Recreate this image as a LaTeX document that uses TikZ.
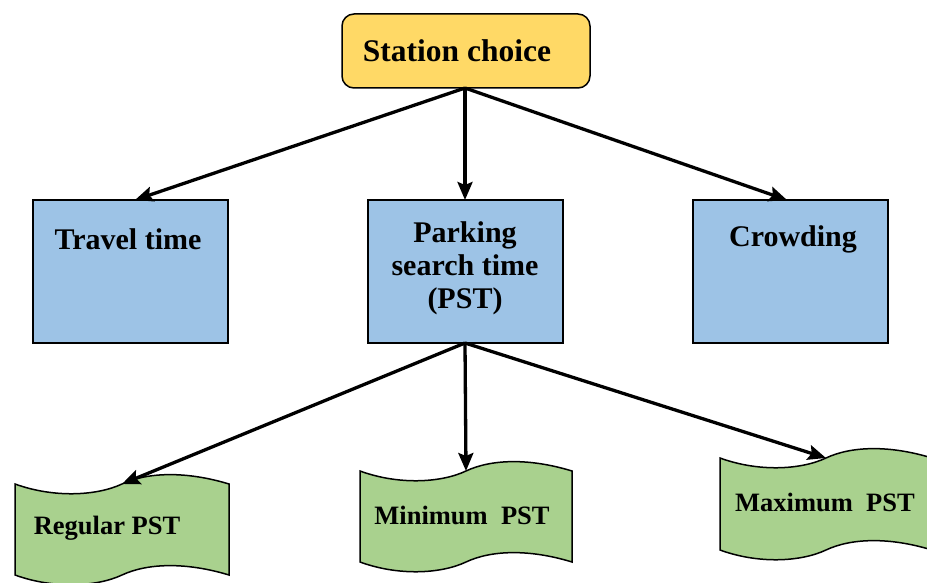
\documentclass[tikz,border=0pt]{standalone}
\usepackage{fontspec}
\setmainfont{Liberation Serif}
\usetikzlibrary{arrows.meta}
\definecolor{stationfill}{HTML}{FFD966}
\definecolor{factorfill}{HTML}{9DC3E6}
\definecolor{levelfill}{HTML}{A9D18E}

% wavy banner outline: left x, top y, right x, bottom y, wave amplitude
\newcommand\wavebanner[5]{%
  \pgfmathsetmacro\wW{#3-#1}%
  \pgfmathsetmacro\wM{(#1+#3)/2}%
  \filldraw[bannerbox] (#1,#2)
    .. controls +(0.18*\wW,1.4*#5) and +(-0.12*\wW,1.2*#5) .. (\wM,#2)
    .. controls +(0.12*\wW,-1.2*#5) and +(-0.2*\wW,-1.3*#5) .. (#3,#2)
    -- (#3,#4)
    .. controls +(-0.2*\wW,-1.3*#5) and +(0.12*\wW,-1.2*#5) .. (\wM,#4)
    .. controls +(-0.12*\wW,1.2*#5) and +(0.18*\wW,1.4*#5) .. (#1,#4)
    -- cycle;}

\begin{document}
\begin{tikzpicture}[x=1pt,y=-1pt,
  topbox/.style={draw=black,line width=1.5pt,fill=stationfill,rounded corners=12pt,
    minimum width=248pt,minimum height=74pt,inner sep=0pt,
    font=\fontsize{31.5}{35}\selectfont\bfseries},
  factorbox/.style={draw=black,line width=1.5pt,fill=factorfill,
    minimum width=195pt,minimum height=143pt,inner sep=0pt},
  factortext/.style={font=\fontsize{30}{33}\selectfont\bfseries,align=center},
  bannerbox/.style={draw=black,line width=1.5pt,fill=levelfill},
  bannertext/.style={font=\fontsize{26.5}{30}\selectfont\bfseries},
  flow/.style={line width=3.3pt,-{Stealth[length=18pt,width=15pt,inset=3pt]}}]

\useasboundingbox (0,0) rectangle (927,583);
\clip (0,0) rectangle (927,583);

% top level (text sits a little left of the box centre)
\node[topbox] (station) at (466,51) {Station choice\hspace*{18pt}};

% factors
\node[factorbox] (travel) at (130.5,271.5) {};
\node[factorbox] (pst)    at (465.5,271.5) {};
\node[factorbox] (crowd)  at (790.5,271.5) {};
\node[factortext] (travelt) at (128,239) {Travel time};
\node[factortext,anchor=north] (pstt) at (465,218) {Parking\\search time\\(PST)};
\node[factortext] (crowdt) at (793,239) {Crowding};

% PST levels
\wavebanner{15}{484}{229}{575}{10}
\wavebanner{360}{471}{572}{562}{10}
\wavebanner{720}{458}{932}{550}{10}
\coordinate (regtop) at (122,484);
\coordinate (mintop) at (466,471);
\coordinate (maxtop) at (826,458);
\node[bannertext] (reg) at (107,528) {Regular PST};
\node[bannertext] (min) at (462,515) {Minimum\ \ PST};
\node[bannertext] (max) at (825,502) {Maximum\ \ PST};

% connectors
\coordinate (stationfoot) at (465,88);
\coordinate (pstfoot) at (465,343);
\draw[flow] (stationfoot) -- (135,200);
\draw[flow] (stationfoot) -- (465,200);
\draw[flow] (stationfoot) -- (787,200);
\draw[flow] (pstfoot) -- (regtop);
\draw[flow] (pstfoot) -- (mintop);
\draw[flow] (pstfoot) -- (maxtop);
\end{tikzpicture}
\end{document}
